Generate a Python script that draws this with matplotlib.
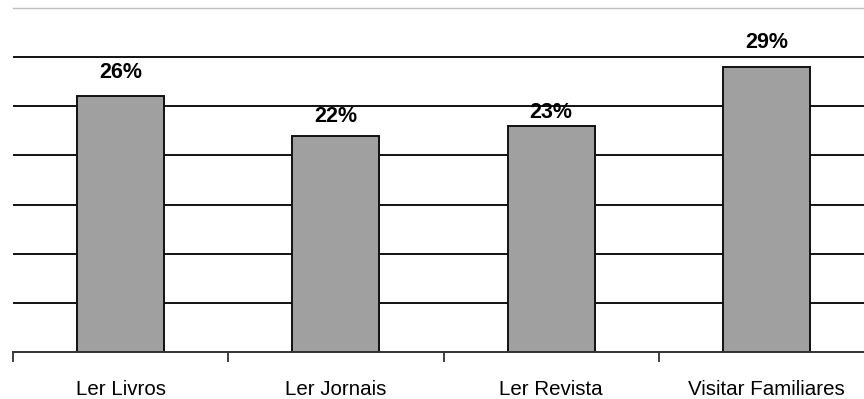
import matplotlib
matplotlib.use("Agg")
import matplotlib.pyplot as plt
import numpy as np

categories = ["Ler Livros", "Ler Jornais", "Ler Revista", "Visitar Familiares"]
values = [26, 22, 23, 29]
value_labels = ["26%", "22%", "23%", "29%"]

# vertical gap (points) between each bar top and its value label
label_offsets = [10, 6, 2.2, 10]

plt.rcParams["font.family"] = ["Liberation Sans", "DejaVu Sans"]

fig = plt.figure(figsize=(8.64, 3.99), dpi=100)
W, H = 864, 399
left, right, bottom, top = 13, 874, 352, 8
ax = fig.add_axes([left / W, (H - bottom) / H, (right - left) / W, (bottom - top) / H])

x = np.arange(len(categories))
ax.set_xlim(-0.5, len(categories) - 0.5)
ax.set_ylim(0, 35)

# horizontal grid lines
for yv in range(5, 35, 5):
    ax.axhline(yv, color="#111111", lw=1.4, zorder=1)

bars = ax.bar(x, values, width=0.405, color="#a0a0a0", edgecolor="#111111",
              linewidth=1.4, zorder=2)

for xi, v, lab, off in zip(x, values, value_labels, label_offsets):
    ax.annotate(lab, (xi, v), xytext=(0, off), textcoords="offset points",
                ha="center", va="bottom", fontsize=15.5, fontweight="bold",
                zorder=3)

for s in ["left", "right"]:
    ax.spines[s].set_visible(False)
ax.spines["top"].set_color("#c0c0c0")
ax.spines["top"].set_linewidth(1.0)
ax.spines["bottom"].set_color("#333333")
ax.spines["bottom"].set_linewidth(1.4)

ax.set_yticks([])
ax.set_xticks(np.arange(-0.5, len(categories) + 0.5, 1.0))
ax.set_xticklabels([])
ax.set_xticks(x, minor=True)
ax.set_xticklabels(categories, minor=True, fontsize=14.8)
ax.tick_params(axis="x", which="major", direction="out", length=7, width=1.3, color="#333333")
ax.tick_params(axis="x", which="minor", length=0, pad=20)

fig.savefig("out.png", dpi=100)
